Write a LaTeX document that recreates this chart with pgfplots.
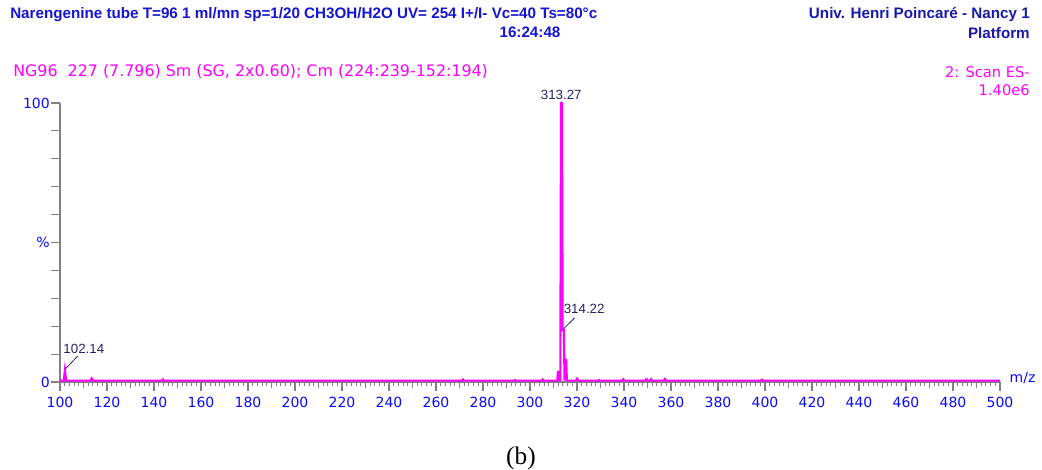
\documentclass[border=0pt]{standalone}
\usepackage{pgfplots}
\pgfplotsset{compat=1.18}
\usepackage{fontspec}
\setmainfont{Liberation Sans}
\newfontfamily\timesfont{Liberation Serif}
\newfontfamily\mssans{DejaVu Sans}
\definecolor{hdrblue}{RGB}{20,20,210}
\definecolor{hdrnavy}{RGB}{25,25,170}
\definecolor{tickblue}{RGB}{10,10,245}
\definecolor{pknavy}{RGB}{35,35,110}
\definecolor{trace}{RGB}{255,0,255}
\definecolor{axgray}{RGB}{128,128,128}

\begin{document}
\begin{tikzpicture}
% page frame: 1 px of the reference = 0.75pt, axis origin at (0,0)
\path[use as bounding box] (-45pt,-65.25pt) rectangle (736.5pt,286.5pt);

\begin{axis}[
    scale only axis,
    width=705pt, height=209.25pt,
    xmin=100, xmax=500, ymin=0, ymax=100,
    axis x line=bottom, axis y line=left,
    axis line style={-, axgray, line width=1.5pt},
    tick style={axgray, line width=0.8pt},
    tick align=outside,
    xtick={100,120,...,500},
    minor x tick num=9,
    extra x ticks={110,130,...,490},
    extra x tick labels={},
    extra x tick style={major tick length=4.5pt},
    major tick length=6.5pt,
    minor tick length=3pt,
    ytick={0,10,...,100},
    yticklabels={0,,,,,\%,,,,,100},
    ticklabel style={font=\mssans\fontsize{10.5}{12}\selectfont, text=tickblue},
    xticklabel style={yshift=-1pt},
    yticklabel style={inner sep=1pt},
    /pgf/number format/assume math mode=true,
    clip=false,
]
\addplot[trace, line width=1.6pt] coordinates {
    (100,0.5)
    (101.6,0.5)(102.1,4.3)(102.6,0.5)
    (112.9,0.5)(113.5,1.3)(114.1,0.5)
    (143.3,0.5)(143.8,0.9)(144.3,0.5)
    (271,0.5)(271.5,0.9)(272,0.5)
    (293,0.5)(293.5,0.7)(294,0.5)
    (305,0.5)(305.5,0.9)(306,0.5)
    (311.6,0.5)(311.9,3.6)(312.2,3.6)(312.5,0.5)(312.9,0.5)
    (313.2,100)(313.6,100)(313.9,18.6)(314.4,18.6)(314.7,0.5)
    (315.0,8)(315.4,8)(315.7,0.5)
    (319.5,0.5)(320,1.2)(320.5,0.5)
    (329,0.5)(329.4,0.7)(329.8,0.5)
    (339.2,0.5)(339.7,1.0)(340.2,0.5)
    (349,0.5)(349.5,1.0)(350,0.5)
    (351,0.5)(351.5,1.0)(352,0.5)
    (356.9,0.5)(357.4,1.1)(357.9,0.5)
    (398.2,0.5)(398.7,0.8)(399.2,0.5)
    (500,0.5)
};
% peak labels
\node[text=pknavy, font=\fontsize{10}{11}\selectfont, anchor=south, inner sep=1pt]
    at (axis cs:313.3,100.5) {313.27};
\node[text=pknavy, font=\fontsize{10}{11}\selectfont, anchor=west, inner sep=1pt]
    at (axis cs:100.8,11.8) {102.14};
\draw[pknavy, line width=0.6pt] (axis cs:102.2,4.6) -- (axis cs:107.5,9.3);
\node[text=pknavy, font=\fontsize{10}{11}\selectfont, anchor=west, inner sep=1pt]
    at (axis cs:313.7,26.2) {314.22};
\draw[pknavy, line width=0.6pt] (axis cs:314.2,19) -- (axis cs:319,23);
\node[text=tickblue, font=\mssans\fontsize{10.5}{12}\selectfont, anchor=west, inner sep=0pt]
    at (axis cs:504,1.5) {m/z};
\end{axis}

% header
\node[anchor=west, inner sep=0pt, text=hdrblue, font=\bfseries\fontsize{11.4}{12}\selectfont]
    at (-37.5pt,275.25pt) {Narengenine tube T=96 1 ml/mn sp=1/20 CH3OH/H2O UV= 254 I+/I- Vc=40 Ts=80°c};
\node[inner sep=0pt, text=hdrblue, font=\bfseries\fontsize{11.4}{12}\selectfont]
    at (352.5pt,262pt) {16:24:48};
\node[anchor=east, inner sep=0pt, text=hdrnavy, font=\bfseries\fontsize{11.4}{12}\selectfont]
    at (727.5pt,275.25pt) {Univ. Henri Poincaré - Nancy 1};
\node[anchor=east, inner sep=0pt, text=hdrnavy, font=\bfseries\fontsize{11.4}{12}\selectfont]
    at (727.5pt,262pt) {Platform};
\node[anchor=west, inner sep=0pt, text=trace, font=\mssans\fontsize{11.9}{13}\selectfont]
    at (-35.25pt,232.5pt) {NG96\ \ 227 (7.796) Sm (SG, 2x0.60); Cm (224:239-152:194)};
\node[anchor=east, inner sep=0pt, text=trace, font=\mssans\fontsize{11}{12}\selectfont]
    at (727.5pt,232.5pt) {2: Scan ES-};
\node[anchor=east, inner sep=0pt, text=trace, font=\mssans\fontsize{11}{12}\selectfont]
    at (727.5pt,219pt) {1.40e6};
% caption
\node[inner sep=0pt, font=\timesfont\fontsize{19}{21}\selectfont]
    at (345.75pt,-57pt) {(b)};
\end{tikzpicture}
\end{document}
